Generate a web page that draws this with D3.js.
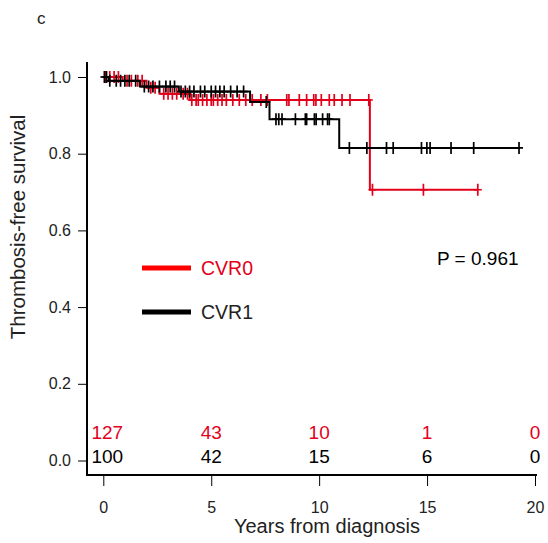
<!DOCTYPE html>
<html>
<head>
<meta charset="utf-8">
<script src="https://cdn.jsdelivr.net/npm/d3@7"></script>
<style>
  body { margin: 0; background: #fff; }
  svg { font-family: "Liberation Sans", Arial, sans-serif; }
</style>
</head>
<body>
<div id="chart"></div>
<script>
// Kaplan-Meier steps: [time, survival after the event]
const cvr0Steps = [[0.9, 0.99], [2.0, 0.972], [2.6, 0.956], [4.0, 0.94], [12.35, 0.706]];
const cvr1Steps = [[0.25, 0.99], [1.7, 0.975], [3.5, 0.962], [6.8, 0.935], [7.7, 0.89], [10.93, 0.815]];

// censor times
const cvr0Censor = [0.1, 0.3, 0.5, 0.7, 1.1, 1.3, 1.6, 1.8, 2.2, 2.4, 2.8, 3.0, 3.2, 3.4, 3.7, 3.9,
  4.1, 4.3, 4.4, 4.6, 4.8, 5.0, 5.1, 5.3, 5.5, 5.7, 6.0, 6.3, 6.6, 6.9, 7.3, 7.6, 8.5, 8.6,
  9.08, 9.42, 9.75, 9.85, 10.1, 10.47, 10.7, 11.06, 11.43, 12.3, 12.47, 14.83, 17.35];
const cvr1Censor = [0.05, 0.15, 0.3, 0.6, 0.8, 1.0, 1.2, 1.5, 1.9, 2.1, 2.3, 2.6, 2.9, 3.1, 3.3,
  3.6, 3.8, 4.0, 4.2, 4.5, 4.7, 5.0, 5.2, 5.4, 5.6, 5.9, 6.2, 6.5, 7.55, 8.0, 8.13, 8.28, 8.9,
  9.36, 9.42, 9.78, 9.86, 10.16, 10.39, 10.47, 11.4, 12.21, 13.12, 13.43, 14.74, 14.99, 15.14,
  16.11, 17.16, 19.26];
const cvr0End = 17.35;
const cvr1End = 19.3;

// numbers at risk
const riskTimes = [0, 5, 10, 15, 20];
const cvr0Risk = [127, 43, 10, 1, 0];
const cvr1Risk = [100, 42, 15, 6, 0];

const xTicks = [0, 5, 10, 15, 20];
const yTicks = [0, 0.2, 0.4, 0.6, 0.8, 1.0];
const pText = "P = 0.961";

const RED = "#e3001b";
const width = 548, height = 543;

const svg = d3.select("#chart").append("svg")
    .attr("width", width)
    .attr("height", height);

const x = d3.scaleLinear().domain([0, 20]).range([103.3, 535]);
const y = d3.scaleLinear().domain([0, 1]).range([460.5, 77]);

// panel label
svg.append("text").attr("x", 37).attr("y", 24).attr("font-size", 17).attr("fill", "#222").text("c");

// axes lines
svg.append("line").attr("x1", 87).attr("x2", 87).attr("y1", 62).attr("y2", 476)
    .attr("stroke", "#000").attr("stroke-width", 2);
svg.append("line").attr("x1", 86).attr("x2", 537).attr("y1", 475).attr("y2", 475)
    .attr("stroke", "#000").attr("stroke-width", 2);

const yAxis = svg.append("g").attr("transform", "translate(87,0)")
    .call(d3.axisLeft(y).tickValues(yTicks).tickFormat(d3.format(".1f")).tickSize(9).tickPadding(7));
yAxis.select(".domain").remove();
yAxis.selectAll("text").attr("font-size", 16).attr("fill", "#222").attr("font-family", "Liberation Sans, Arial");
yAxis.selectAll("line").attr("stroke", "#000");

const xAxis = svg.append("g").attr("transform", "translate(0,475)")
    .call(d3.axisBottom(x).tickValues(xTicks).tickSize(11).tickPadding(16));
xAxis.select(".domain").remove();
xAxis.selectAll("text").attr("font-size", 16).attr("fill", "#222").attr("font-family", "Liberation Sans, Arial");
xAxis.selectAll("line").attr("stroke", "#000");

// axis titles
svg.append("text")
    .attr("transform", "translate(25,227) rotate(-90)")
    .attr("text-anchor", "middle").attr("font-size", 20.5).attr("fill", "#222")
    .text("Thrombosis-free survival");
svg.append("text")
    .attr("x", 327).attr("y", 533)
    .attr("text-anchor", "middle").attr("font-size", 20).attr("fill", "#222")
    .text("Years from diagnosis");

function levelAt(steps, t) {
    let s = 1;
    steps.forEach(d => { if (d[0] <= t) s = d[1]; });
    return s;
}

function kmPath(steps, end) {
    let p = d3.path();
    let s = 1;
    p.moveTo(x(0), y(1));
    steps.forEach(d => {
        p.lineTo(x(d[0]), y(s));
        s = d[1];
        p.lineTo(x(d[0]), y(s));
    });
    p.lineTo(x(end), y(s));
    return p.toString();
}

function drawCurve(steps, censor, end, color) {
    const g = svg.append("g");
    g.append("path")
        .attr("d", kmPath(steps, end))
        .attr("fill", "none")
        .attr("stroke", color)
        .attr("stroke-width", 2);
    g.selectAll(".cens")
        .data(censor)
        .enter().append("path")
        .attr("class", "cens")
        .attr("d", t => {
            const cx = x(t), cy = y(levelAt(steps, t));
            return `M${cx - 4},${cy}H${cx + 4}M${cx},${cy - 6}V${cy + 6}`;
        })
        .attr("stroke", color)
        .attr("stroke-width", 1.7)
        .attr("fill", "none");
}

drawCurve(cvr0Steps, cvr0Censor, cvr0End, RED);
drawCurve(cvr1Steps, cvr1Censor, cvr1End, "#000");

// legend
const legend = [
    { label: "CVR0", color: "#ff0000", text: RED, y: 268 },
    { label: "CVR1", color: "#000", text: "#222", y: 312 }
];
legend.forEach(d => {
    svg.append("line").attr("x1", 142).attr("x2", 191).attr("y1", d.y).attr("y2", d.y)
        .attr("stroke", d.color).attr("stroke-width", 5);
    svg.append("text").attr("x", 201).attr("y", d.y + 7)
        .attr("font-size", 19.5).attr("fill", d.text).text(d.label);
});

svg.append("text").attr("x", 437).attr("y", 265)
    .attr("font-size", 19).attr("fill", "#000").text(pText);

// numbers at risk
svg.selectAll(".risk0").data(riskTimes).enter().append("text")
    .attr("x", (t, i) => x(t) + (i === 0 ? 4 : 0))
    .attr("y", 439)
    .attr("text-anchor", "middle").attr("font-size", 19).attr("fill", RED)
    .text((t, i) => cvr0Risk[i]);
svg.selectAll(".risk1").data(riskTimes).enter().append("text")
    .attr("x", (t, i) => x(t) + (i === 0 ? 4 : 0))
    .attr("y", 463)
    .attr("text-anchor", "middle").attr("font-size", 19).attr("fill", "#000")
    .text((t, i) => cvr1Risk[i]);
</script>
</body>
</html>
